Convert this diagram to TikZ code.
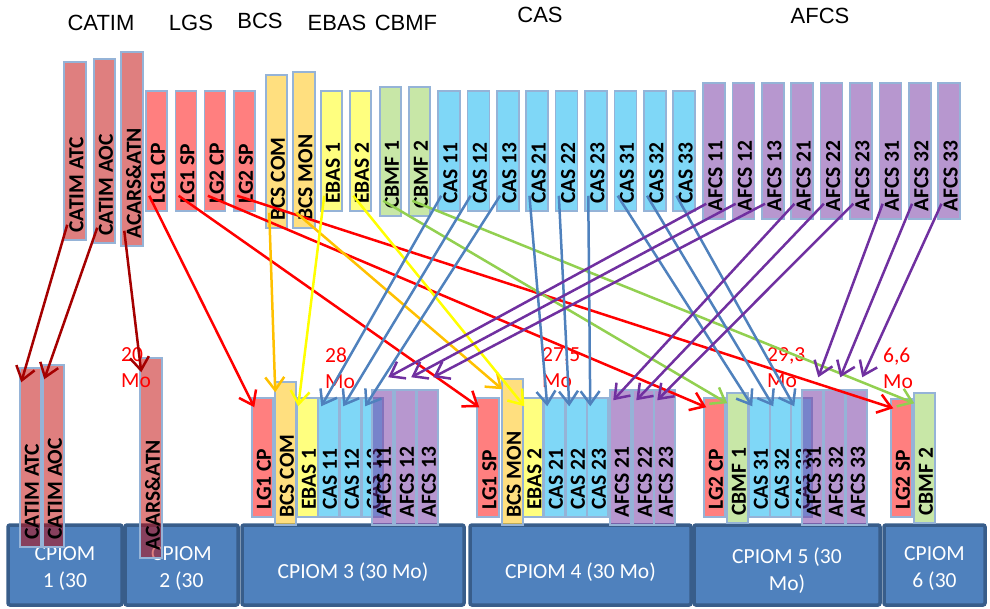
\documentclass[tikz,border=0pt]{standalone}
\usepackage{fontspec}
\setmainfont{Carlito}
\newfontfamily\headfont{Liberation Sans}
\usetikzlibrary{arrows.meta,fit}
\definecolor{catimcol}{HTML}{C00000}
\definecolor{catimline}{RGB}{165,0,0}
\definecolor{lgscol}{HTML}{FF0000}
\definecolor{bcscol}{HTML}{FFC000}
\definecolor{ebascol}{HTML}{FFFF00}
\definecolor{cbmfcol}{HTML}{92D050}
\definecolor{cascol}{HTML}{00B0F0}
\definecolor{casline}{HTML}{4F81BD}
\definecolor{afcscol}{HTML}{7030A0}
\definecolor{edgeblue}{HTML}{95B3D7}
\definecolor{cpiomfill}{HTML}{4F81BD}
\definecolor{cpiomedge}{HTML}{385D8A}
\tikzstyle{modbox}=[draw=edgeblue,line width=1.5pt,inner sep=0pt,fill opacity=0.5]
\tikzstyle{modtxt}=[rotate=90,anchor=west,inner sep=0pt,font=\bfseries\fontsize{21.5}{21.5}\selectfont]
\tikzstyle{grouplbl}=[inner sep=0pt,font=\headfont\fontsize{22}{22}\selectfont]
\tikzstyle{cpiombox}=[draw=cpiomedge,fill=cpiomfill,line width=3.5pt,rounded corners=2pt]
\tikzstyle{cpiomtxt}=[inner sep=0pt,text=white,align=center,font=\fontsize{21.5}{27}\selectfont]
\tikzstyle{memlbl}=[anchor=west,inner sep=0pt,align=left,text=red,font=\fontsize{21.5}{26}\selectfont]
\tikzstyle{link}=[line width=2.5pt,-{Straight Barb[length=13pt,width=19pt]}]
\newcommand{\modul}[7]{
	\node[modbox,fill=#2,fit={(#3,#5) (#4,#6)}] (#1) {};
	\node[modtxt] (#1t) at ([xshift=1.5pt,yshift=8pt]#1.south) {#7};
}
\newcommand{\cpiom}[5]{
	\node[cpiombox,minimum width=#3pt-#2pt,minimum height=80pt] (#1) at ({(#2+#3)/2},565) {};
	\node[cpiomtxt] (#1t) at ({(#2+#3)/2},#4) {#5};
}
\newcommand{\drawlinks}[3][]{
	\foreach \a/\b in {#3}{
		\draw[link,#1] ([xshift=4pt,yshift=16pt]\a.south west) -- ([#2]\b.north west);
	}
}

\begin{document}
\begin{tikzpicture}[x=1pt,y=-1pt]
\useasboundingbox (0,0) rectangle (990,608);

\node[grouplbl] (hcatim) at (101,23) {CATIM};
\node[grouplbl] (hlgs) at (191,23) {LGS};
\node[grouplbl] (hbcs) at (260,21) {BCS};
\node[grouplbl] (hebas) at (337,23) {EBAS};
\node[grouplbl] (hcbmf) at (406,23) {CBMF};
\node[grouplbl] (hcas) at (540,15) {CAS};
\node[grouplbl] (hafcs) at (820,16) {AFCS};

\cpiom{cpiom1}{8}{122}{568.5}{CPIOM\\1 (30}
\cpiom{cpiom2}{125}{238}{568.5}{CPIOM\\2 (30}
\cpiom{cpiom3}{242}{464}{572}{CPIOM 3 (30 Mo)}
\cpiom{cpiom4}{470}{691}{572}{CPIOM 4 (30 Mo)}
\cpiom{cpiom5}{694}{880}{571}{CPIOM 5 (30\\Mo)}
\cpiom{cpiom6}{884}{985}{568.5}{CPIOM\\6 (30}

\modul{catimatc}{catimcol}{64}{86}{62}{240}{CATIM ATC}
\modul{catimaoc}{catimcol}{94}{115}{59}{243}{CATIM AOC}
\modul{acars}{catimcol}{121}{143}{52}{246}{ACARS\&ATN}
\foreach \n/\lbl [count=\i from 0] in {lgonecp/LG1 CP,lgonesp/LG1 SP,lgtwocp/LG2 CP,lgtwosp/LG2 SP}{
	\modul{\n}{lgscol}{146+29.3*\i}{167+29.3*\i}{91}{211}{\lbl}
}
\modul{bcscom}{bcscol}{266}{287}{75}{228}{BCS COM}
\modul{bcsmon}{bcscol}{293}{315}{72}{228}{BCS MON}
\modul{ebasone}{ebascol}{321}{342}{91}{211}{EBAS 1}
\modul{ebastwo}{ebascol}{350}{371}{91}{211}{EBAS 2}
\modul{cbmfone}{cbmfcol}{380}{401}{87}{216}{CBMF 1}
\modul{cbmftwo}{cbmfcol}{409}{430}{87}{216}{CBMF 2}
\foreach \n [count=\i from 0] in {11,12,13,21,22,23,31,32,33}{
	\modul{cas\n}{cascol}{438+29.4*\i}{460+29.4*\i}{91}{211}{CAS \n}
	\modul{afcs\n}{afcscol}{703+29.4*\i}{725+29.4*\i}{83}{219}{AFCS \n}
}

\modul{catimatcb}{catimcol}{20}{41}{368}{547}{CATIM ATC}
\modul{catimaocb}{catimcol}{43}{64}{365}{547}{CATIM AOC}
\modul{acarsb}{catimcol}{140}{162}{358}{558}{ACARS\&ATN}

\modul{lgonecpb}{lgscol}{252}{273}{398}{517}{LG1 CP}
\modul{bcscomb}{bcscol}{275}{296}{382}{525}{BCS COM}
\modul{ebasoneb}{ebascol}{297}{318}{398}{517}{EBAS 1}
\foreach \n/\x in {11/318,12/340,13/362}{
	\modul{cas\n b}{cascol}{\x}{\x+21}{398}{517}{CAS \n}
}
\foreach \n/\x in {11/372,12/395,13/417}{
	\modul{afcs\n b}{afcscol}{\x}{\x+21}{390}{525}{AFCS \n}
}

\modul{lgonespb}{lgscol}{477}{499}{398}{517}{LG1 SP}
\modul{bcsmonb}{bcscol}{502}{523}{379}{525}{BCS MON}
\modul{ebastwob}{ebascol}{523}{543}{398}{517}{EBAS 2}
\foreach \n/\x in {21/544,22/566,23/587}{
	\modul{cas\n b}{cascol}{\x}{\x+21}{398}{517}{CAS \n}
}
\foreach \n/\x in {21/610,22/633,23/654}{
	\modul{afcs\n b}{afcscol}{\x}{\x+21}{390}{525}{AFCS \n}
}

\modul{lgtwocpb}{lgscol}{704}{725}{398}{517}{LG2 CP}
\modul{cbmfoneb}{cbmfcol}{727}{748}{393}{523}{CBMF 1}
\foreach \n/\x in {31/749,32/770,33/791}{
	\modul{cas\n b}{cascol}{\x}{\x+21}{398}{517}{CAS \n}
}
\foreach \n/\x in {31/802,32/824,33/846}{
	\modul{afcs\n b}{afcscol}{\x}{\x+21}{390}{525}{AFCS \n}
}

\modul{lgtwospb}{lgscol}{891}{912}{399}{517}{LG2 SP}
\modul{cbmftwob}{cbmfcol}{914}{935}{393}{523}{CBMF 2}

\node[memlbl] (mem2) at (121,368) {20\\Mo};
\node[memlbl] (mem3) at (325,368) {28\\Mo};
\node[memlbl] (mem4) at (542,368) {27,5\\Mo};
\node[memlbl] (mem5) at (767,368) {29,3\\Mo};
\node[memlbl] (mem6) at (883,368) {6,6\\Mo};

\drawlinks[catimline]{xshift=2pt,yshift=-15pt}{catimatc/catimatcb,catimaoc/catimaocb,acars/acarsb}
\drawlinks[lgscol]{xshift=3pt,yshift=-10pt}{lgonecp/lgonecpb,lgonesp/lgonespb,lgtwocp/lgtwocpb,lgtwosp/lgtwospb}
\drawlinks[bcscol]{xshift=1pt,yshift=-11pt}{bcscom/bcscomb,bcsmon/bcsmonb}
\drawlinks[ebascol]{xshift=2pt,yshift=-9pt}{ebasone/ebasoneb,ebastwo/ebastwob}
\drawlinks[cbmfcol]{xshift=1pt,yshift=-11pt}{cbmfone/cbmfoneb,cbmftwo/cbmftwob}
\drawlinks[casline]{xshift=4pt,yshift=-9pt}{cas11/cas11b,cas12/cas12b,cas13/cas13b,cas21/cas21b,cas22/cas22b,cas23/cas23b,cas31/cas31b,cas32/cas32b,cas33/cas33b}
\drawlinks[afcscol]{xshift=4pt,yshift=-11pt}{afcs21/afcs21b,afcs22/afcs22b,afcs23/afcs23b}
\drawlinks[afcscol]{xshift=17pt,yshift=12pt}{afcs11/afcs11b,afcs12/afcs12b,afcs13/afcs13b,afcs31/afcs31b,afcs32/afcs32b,afcs33/afcs33b}
\end{tikzpicture}
\end{document}
